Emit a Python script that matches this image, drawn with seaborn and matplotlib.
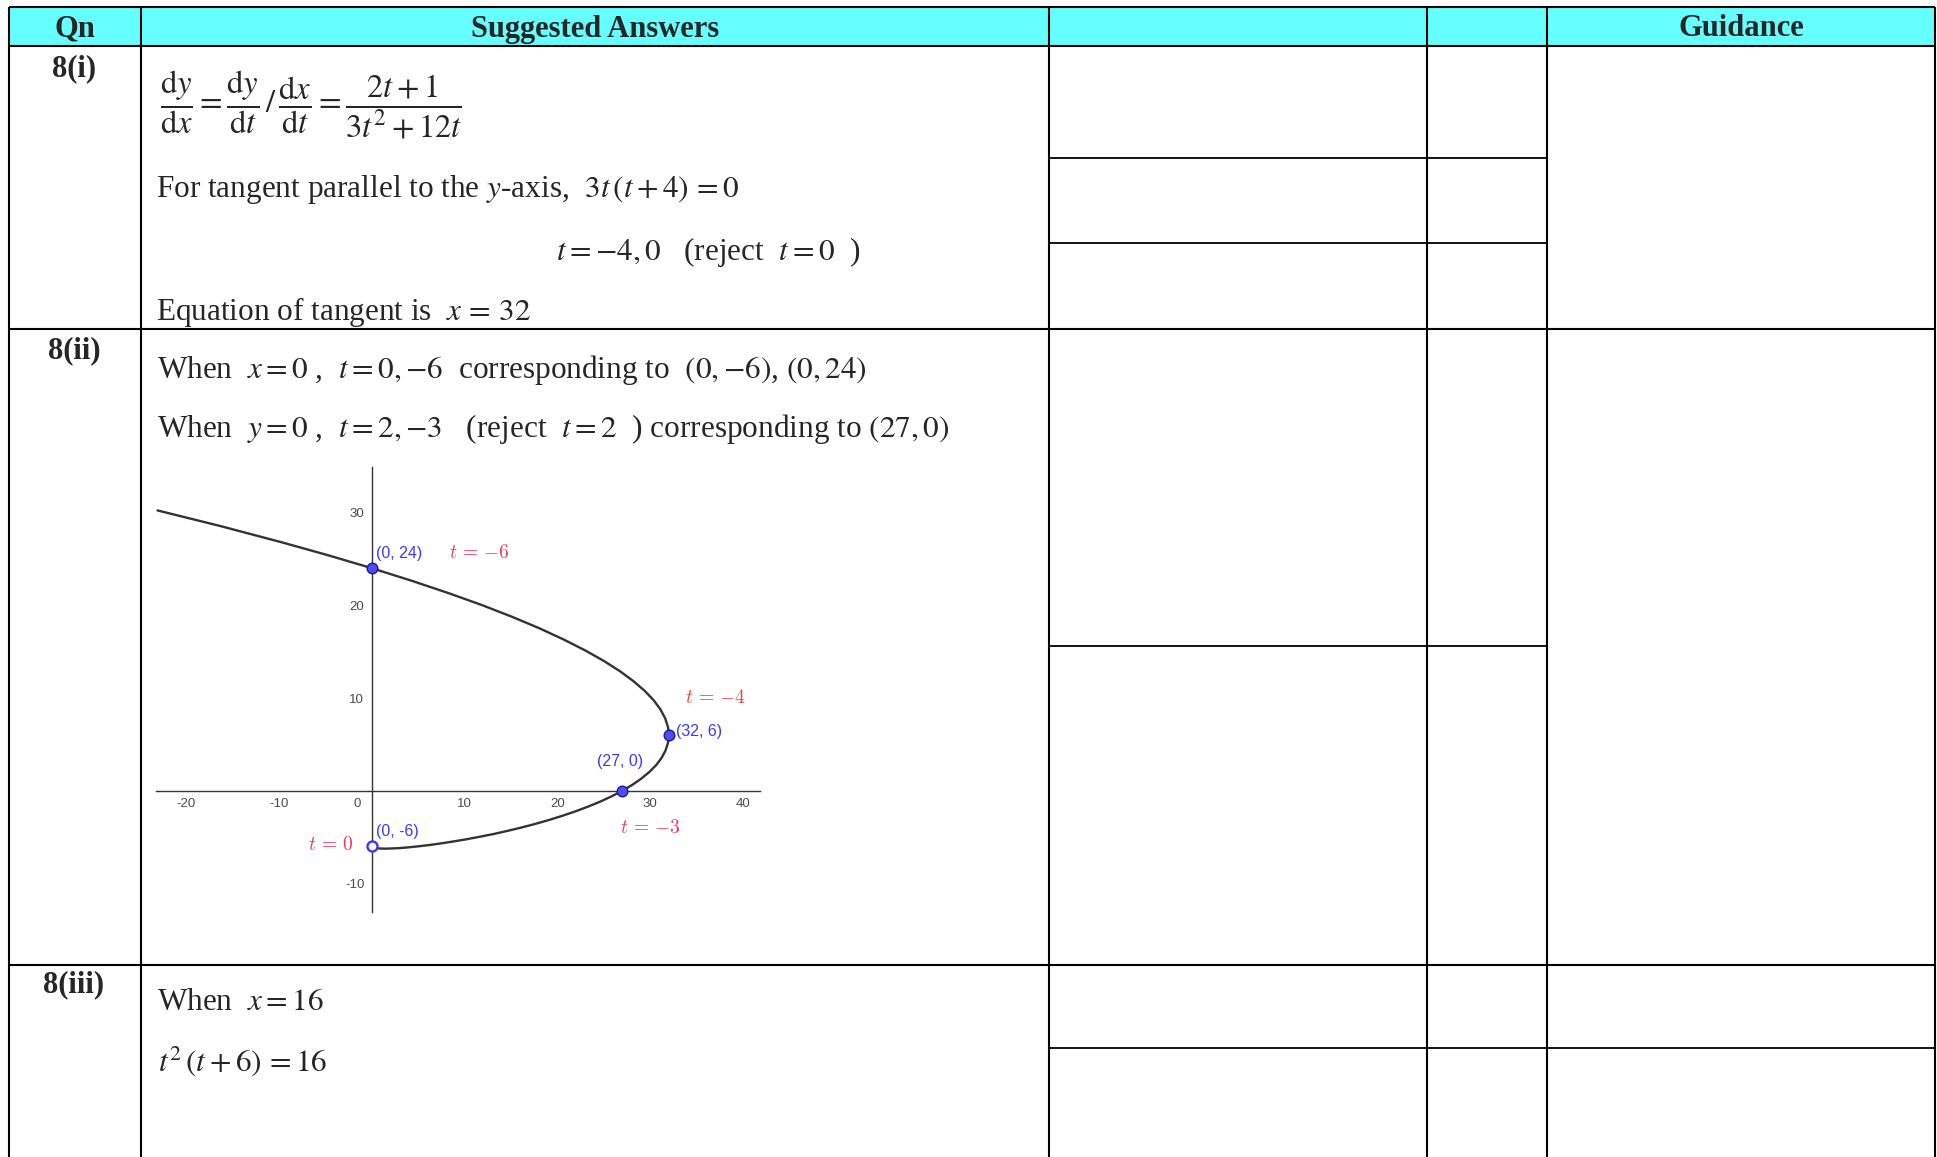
import numpy as np
import pandas as pd
import seaborn as sns
import matplotlib.pyplot as plt

# parametric curve x = x(t), y = y(t)
curve_x = [-23.10, -16.38, -9.77, -4.69, 0.0, 4.31, 8.27, 11.87, 15.13, 18.06, 20.67,
           22.98, 25.0, 26.74, 28.20, 29.41, 30.38, 31.10, 31.61, 31.91, 31.98, 32.0,
           31.98, 31.91, 31.64, 31.21, 30.63, 29.90, 29.05, 28.08, 27.0, 25.83, 24.58,
           23.26, 21.88, 20.45, 18.98, 17.50, 16.0, 14.50, 13.02, 11.55, 10.13, 8.74,
           7.42, 6.17, 5.0, 3.92, 2.95, 2.10, 1.38, 0.79, 0.36, 0.09, 0.0]
curve_y = [30.23, 28.56, 26.81, 25.39, 24.0, 22.64, 21.31, 20.02, 18.75, 17.52, 16.31,
           15.14, 14.0, 12.89, 11.81, 10.77, 9.75, 8.77, 7.81, 6.89, 6.44, 6.0,
           5.57, 5.14, 4.31, 3.52, 2.75, 2.02, 1.31, 0.64, 0.0, -0.61, -1.19,
           -1.73, -2.25, -2.73, -3.19, -3.61, -4.0, -4.36, -4.69, -4.98, -5.25, -5.48,
           -5.69, -5.86, -6.0, -6.11, -6.19, -6.23, -6.25, -6.23, -6.19, -6.11, -6.0]

# marked points
pt_x = [0, 32, 27]
pt_y = [24, 6, 0]
pt_labels = ['(0, 24)', '(32, 6)', '(27, 0)']
open_x = [0]
open_y = [-6]
open_label = '(0, -6)'
t_labels = [r'$t\,=\,{-6}$', r'$t\,=\,{-4}$', r'$t\,=\,{-3}$', r'$t\,=\,0$']

x_ticks = [-20, -10, 0, 10, 20, 30, 40]
y_ticks = [-10, 10, 20, 30]

# table text
headers = ['Qn', 'Suggested Answers', '', '', 'Guidance']
row_labels = ['8(i)', '8(ii)', '8(iii)']
answers_1 = [r'$\dfrac{\mathrm{d}y}{\mathrm{d}x}=\dfrac{\mathrm{d}y}{\mathrm{d}t}\,/\,\dfrac{\mathrm{d}x}{\mathrm{d}t}=\dfrac{2t+1}{3t^2+12t}$',
             r'For tangent parallel to the $y$-axis,  $3t\,(t+4)\,=0$',
             r'$t={-4},0$   (reject  $t=0$  )',
             r'Equation of tangent is  $x\,=\,32$']
answers_2 = [r'When  $x=0$ ,  $t=0,{-6}$  corresponding to  $(0,{-6})$, $(0,24)$',
             r'When  $y=0$ ,  $t=2,{-3}$   (reject  $t=2$  ) corresponding to $(27,0)$']
answers_3 = [r'When  $x=16$',
             r'$t^2\,(t+6)\,=16$']

sns.set_theme(style='white')
plt.rcParams['font.family'] = ['Liberation Serif', 'DejaVu Serif']
plt.rcParams['mathtext.fontset'] = 'stix'
plt.rcParams['axes.unicode_minus'] = False

W, H = 1937, 1157
fig = plt.figure(figsize=(W / 100, H / 100), dpi=100)
fig.patch.set_facecolor('white')

# ---- table, drawn in pixel coordinates ----
tab = fig.add_axes([0, 0, 1, 1])
tab.set_xlim(0, W)
tab.set_ylim(H, 0)
tab.axis('off')

col_x = [9, 141, 1049, 1427, 1547, 1935]
top, head_bot, row1_bot, row2_bot = 7, 46, 329, 965

tab.fill_between([col_x[0], col_x[-1]], top, head_bot, color='#66ffff', lw=0)
for x in col_x:
    tab.plot([x, x], [top, H], color='black', lw=1.5, solid_capstyle='butt')
for y in [top, head_bot, row1_bot, row2_bot]:
    tab.plot([col_x[0], col_x[-1]], [y, y], color='black', lw=1.5, solid_capstyle='butt')
for y in [158, 243, 646]:
    tab.plot([col_x[2], col_x[4]], [y, y], color='black', lw=1.3, solid_capstyle='butt')
tab.plot([col_x[2], col_x[5]], [1048, 1048], color='black', lw=1.3, solid_capstyle='butt')

for i, h in enumerate(headers):
    if h:
        tab.text((col_x[i] + col_x[i + 1]) / 2, 29, h, ha='center', va='center',
                 fontsize=22, fontweight='bold')

for lbl, y in zip(row_labels, [69, 351, 985]):
    tab.text(74, y, lbl, ha='center', va='center', fontsize=22, fontweight='bold')

body = dict(va='center', fontsize=22.5)
tab.text(160, 105, answers_1[0], ha='left', va='center', fontsize=23.5)
tab.text(156, 189, answers_1[1], ha='left', **body)
tab.text(556, 252, answers_1[2], ha='left', **body)
tab.text(156, 312, answers_1[3], ha='left', **body)
tab.text(157, 370, answers_2[0], ha='left', **body)
tab.text(157, 429, answers_2[1], ha='left', **body)
tab.text(157, 1002, answers_3[0], ha='left', **body)
tab.text(158, 1061, answers_3[1], ha='left', **body)

# ---- the sketch of the curve ----
ax = fig.add_axes([156.4 / W, (H - 911.7) / H, 603.1 / W, 445 / H])
ax.patch.set_alpha(0)
ax.set_xlim(-23.23, 41.78)
ax.set_ylim(-13.05, 34.95)

df = pd.DataFrame({'x': curve_x, 'y': curve_y})
sns.lineplot(data=df, x='x', y='y', sort=False, estimator=None,
             color='#333333', lw=1.7, ax=ax, zorder=3, solid_joinstyle='round')
sns.scatterplot(x=pt_x, y=pt_y, s=58, color='#4d4dff', edgecolor='#1a1a8c',
                linewidth=1.0, ax=ax, zorder=5)
sns.scatterplot(x=open_x, y=open_y, s=52, color='white', facecolor='white',
                edgecolor='#3838ff', linewidth=1.7, ax=ax, zorder=5)
ax.set_xlabel('')
ax.set_ylabel('')

for side in ['top', 'right']:
    ax.spines[side].set_visible(False)
for side in ['left', 'bottom']:
    ax.spines[side].set_position(('data', 0))
    ax.spines[side].set_color('#333333')
    ax.spines[side].set_linewidth(1.0)

ax.set_xticks(x_ticks)
ax.set_xticklabels([str(v) if v != 0 else '0   ' for v in x_ticks])
ax.set_yticks(y_ticks)
ax.set_yticklabels([str(v) for v in y_ticks])
ax.tick_params(direction='out', length=2.5, width=0.8, color='#333333',
               labelcolor='#4a4a4a', labelsize=9.5, pad=3)
for tk in ax.get_xticklabels():
    tk.set_fontfamily('Liberation Sans')
    if tk.get_text().strip() == '0':
        tk.set_horizontalalignment('right')
for tk in ax.get_yticklabels():
    tk.set_fontfamily('Liberation Sans')

blue = dict(color='#3a3aff', fontsize=11.5, family='Liberation Sans', va='center')
ax.text(0.45, 25.6, pt_labels[0], ha='left', **blue)
ax.text(32.8, 6.37, pt_labels[1], ha='left', **blue)
ax.text(24.3, 3.13, pt_labels[2], ha='left', **blue)
ax.text(0.45, -4.35, open_label, ha='left', **blue)

red = dict(fontsize=14, math_fontfamily='cm', va='center')
ax.text(8.3, 25.65, t_labels[0], ha='left', color='#ee3a62', **red)
ax.text(33.75, 9.97, t_labels[1], ha='left', color='#dc4a4a', **red)
ax.text(26.7, -4.06, t_labels[2], ha='left', color='#ee3a62', **red)
ax.text(-2.0, -5.86, t_labels[3], ha='right', color='#ee3a62', **red)

fig.savefig('out.png', dpi=100)
